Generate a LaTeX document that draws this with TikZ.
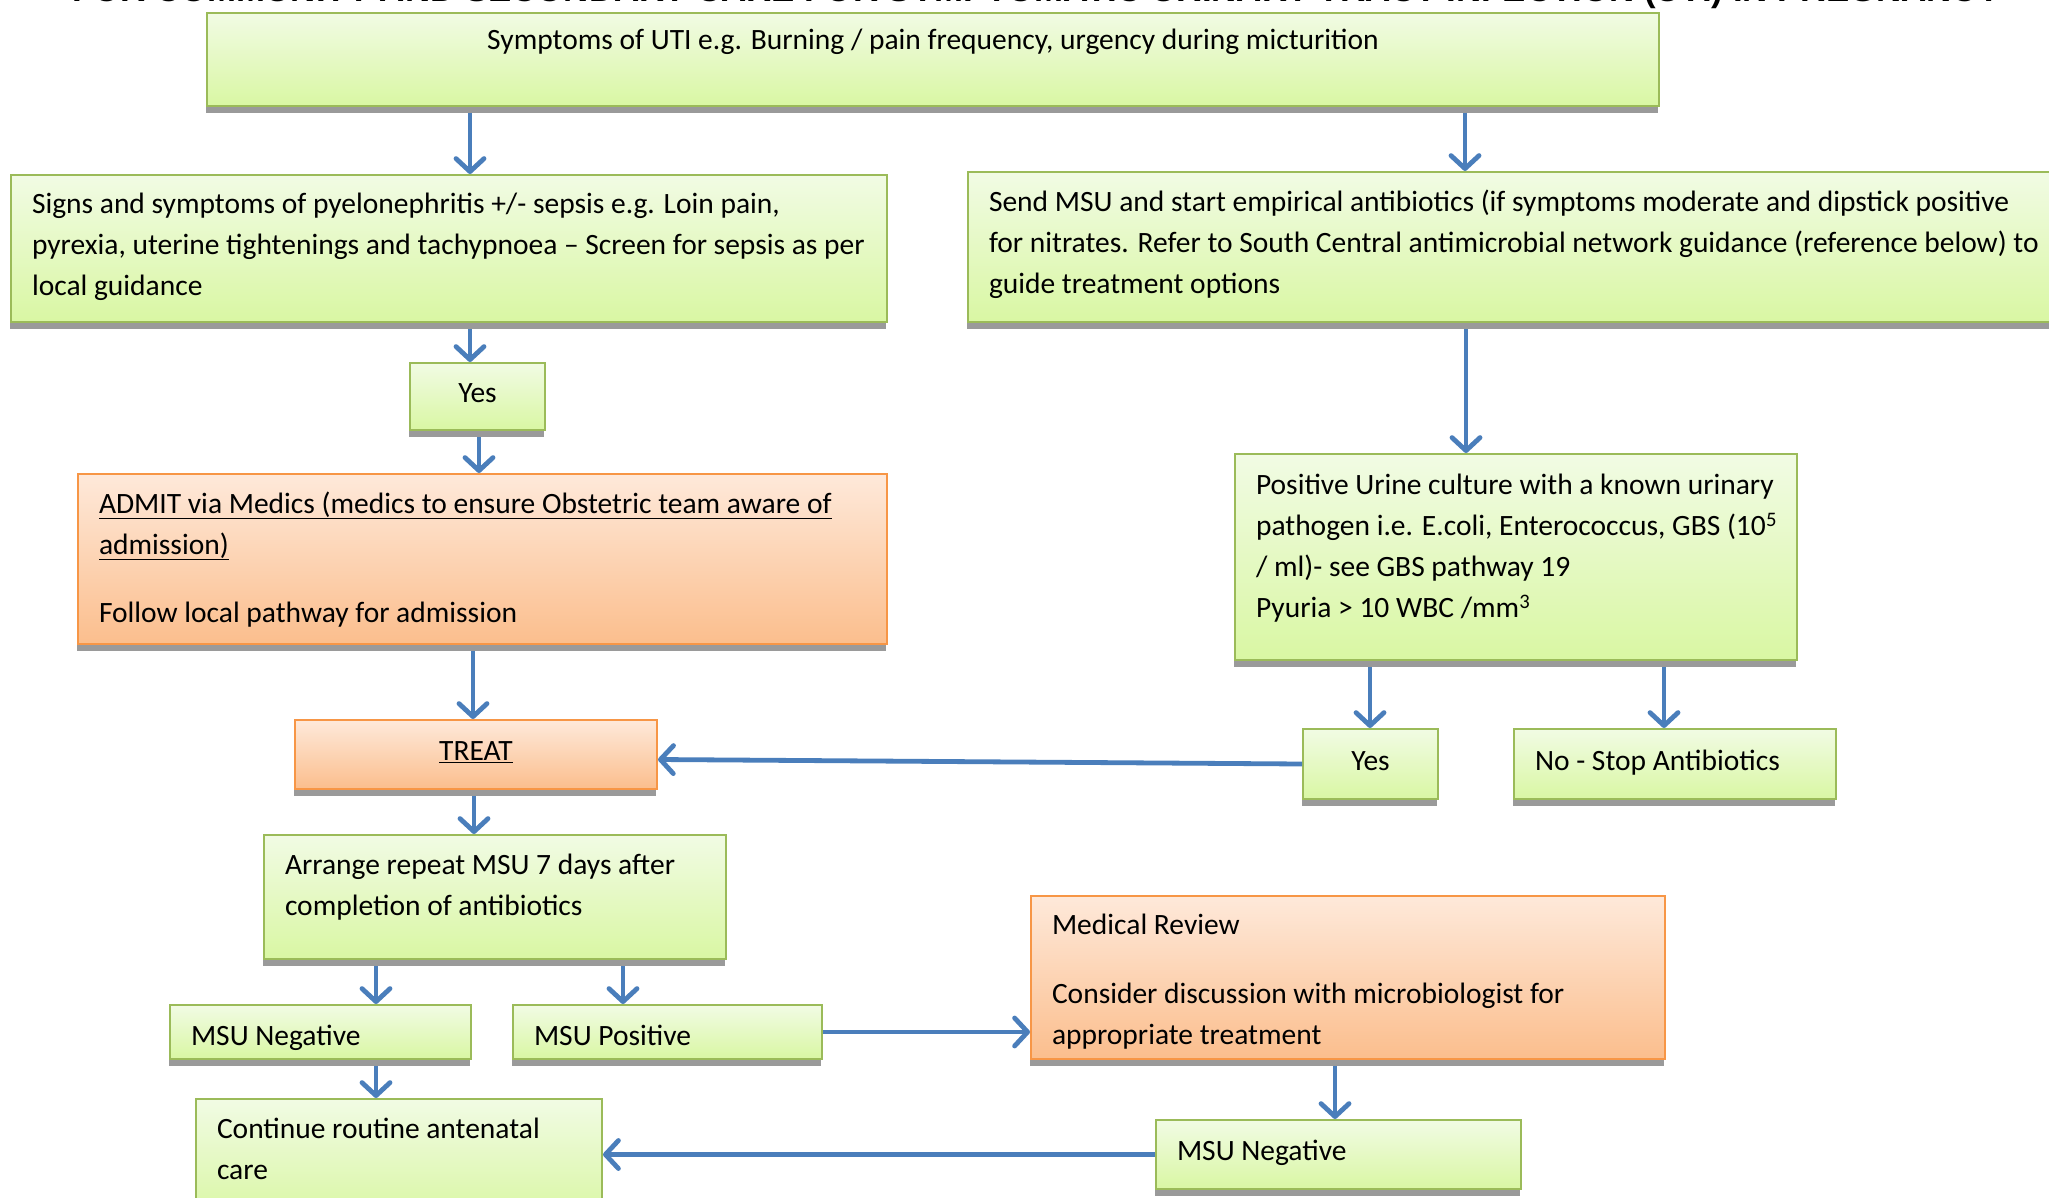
\documentclass[tikz,border=0pt]{standalone}
\usepackage{fontspec}
\usepackage{graphicx}
\setmainfont{Carlito}
\newfontfamily\titlefont{Liberation Sans}
\usetikzlibrary{arrows.meta,shadows}
\definecolor{gtop}{HTML}{F1FBE4}
\definecolor{gbot}{HTML}{D9F7A3}
\definecolor{gline}{HTML}{9BBB59}
\definecolor{otop}{HTML}{FEE9DA}
\definecolor{obot}{HTML}{FBBE8D}
\definecolor{oline}{HTML}{F79646}
\definecolor{arrowblue}{HTML}{4A7EBB}
\definecolor{shadowgray}{HTML}{9A9A9A}
% #1 inner width, #2 height, #3 vertical position (t/c), #4 content
\newcommand\tbx[4]{\parbox[c][#2pt][#3]{#1pt}{#4}}
\newcommand\toplines[2]{\vspace*{#1pt}\begin{tabular}{@{}l@{}}#2\end{tabular}}
\newcommand\upstrut{\rule[-16.3pt]{0pt}{45pt}}
\newcommand\dnstrut{\rule[-12.3pt]{0pt}{51pt}}
\begin{document}
\begin{tikzpicture}[x=1pt,y=-1pt,
  box/.style={draw=gline, line width=2pt, top color=gtop, bottom color=gbot,
    inner xsep=21pt, inner ysep=0pt, anchor=north west,
    drop shadow={shadow xshift=-1pt, shadow yshift=-7pt, fill=shadowgray, opacity=1},
    font=\fontsize{29.5}{41}\selectfont},
  obox/.style={box, draw=oline, top color=otop, bottom color=obot},
  arr/.style={draw=arrowblue, line width=4.8pt, -{Straight Barb[length=13pt,width=28pt,round]}},
  vup/.style={arr, shorten <=6pt}]
\useasboundingbox (0,0) rectangle (2049,1198);
\clip (0,0) rectangle (2049,1198);

% title, mostly cut off at the top edge
\node[anchor=base west, inner sep=0pt] (title) at (72,1.5)
  {\resizebox{1928pt}{!}{\titlefont\bfseries FOR COMMUNITY AND SECONDARY CARE FOR SYMPTOMATIC URINARY TRACT INFECTION (UTI) IN PREGNANCY}};

% boxes
\node[box] (b1) at (206,12) {\tbx{1410}{93}{t}{\vspace*{7.5pt}\centering\strut Symptoms of UTI e.g. Burning / pain frequency, urgency during micturition}};

\node[box] (b2) at (10,174) {\tbx{834}{147}{t}{\toplines{9.5}{Signs and symptoms of pyelonephritis +/- sepsis e.g. Loin pain,\\
pyrexia, uterine tightenings and tachypnoea -- Screen for sepsis as per\\
local guidance}}};

\node[box] (b3) at (967,171) {\tbx{1058}{150}{t}{\toplines{10.5}{Send MSU and start empirical antibiotics (if symptoms moderate and dipstick positive\\
for nitrates. Refer to South Central antimicrobial network guidance (reference below) to\\
guide treatment options}}};

\node[box] (yes1) at (409,362) {\tbx{93}{67}{c}{\centering\upstrut Yes}};

\node[obox] (admit) at (77,473) {\tbx{767}{170}{t}{\toplines{10.5}{\underline{ADMIT via Medics (medics to ensure Obstetric team aware of}\\
\underline{admission)}\\[27pt]
Follow local pathway for admission}}};

\node[box] (pos) at (1234,453) {\tbx{520}{206}{t}{\toplines{11.5}{Positive Urine culture with a known urinary\\
pathogen i.e. E.coli, Enterococcus, GBS (10\textsuperscript{5}\\
/ ml)- see GBS pathway 19\\
Pyuria > 10 WBC /mm\textsuperscript{3}}}};

\node[box] (yes2) at (1302,728) {\tbx{93}{70}{c}{\centering\upstrut Yes}};
\node[box] (no) at (1513,728) {\tbx{280}{70}{c}{\upstrut No - Stop Antibiotics}};

\node[obox] (treat) at (294,719) {\tbx{320}{69}{c}{\centering\upstrut\underline{TREAT}}};

\node[box] (arrange) at (263,834) {\tbx{420}{124}{t}{\toplines{10.5}{Arrange repeat MSU 7 days after\\
completion of antibiotics}}};

\node[box] (msunegL) at (169,1004) {\tbx{259}{54}{c}{\dnstrut MSU Negative}};
\node[box] (msupos) at (512,1004) {\tbx{267}{54}{c}{\dnstrut MSU Positive}};

\node[box] (cont) at (195,1098) {\tbx{364}{120}{t}{\toplines{10.5}{Continue routine antenatal\\
care}}};

\node[obox] (medical) at (1030,895) {\tbx{592}{163}{t}{\toplines{9.5}{Medical Review\\[28pt]
Consider discussion with microbiologist for\\
appropriate treatment}}};

\node[box] (msunegR) at (1155,1119) {\tbx{323}{69}{c}{\upstrut MSU Negative}};

% connectors
\draw[vup] (b1.south -| 470,0) -- (b2.north -| 470,0);
\draw[vup] (b1.south -| 1465,0) -- (b3.north -| 1465,0);
\draw[vup] (b2.south -| 470,0) -- (yes1.north -| 470,0);
\draw[vup] (yes1.south -| 479,0) -- (admit.north -| 479,0);
\draw[vup] (admit.south -| 473,0) -- (treat.north -| 473,0);
\draw[vup] (b3.south -| 1466,0) -- (pos.north -| 1466,0);
\draw[vup] (pos.south -| 1370,0) -- (yes2.north -| 1370,0);
\draw[vup] (pos.south -| 1664,0) -- (no.north -| 1664,0);
\draw[arr] (yes2.west) -- ([yshift=-5pt]treat.east);
\draw[vup] (treat.south -| 474,0) -- (arrange.north -| 474,0);
\draw[vup] (arrange.south -| 376,0) -- (msunegL.north -| 376,0);
\draw[vup] (arrange.south -| 623,0) -- (msupos.north -| 623,0);
\draw[arr] (msupos.east) -- (medical.west |- msupos.east);
\draw[vup] (msunegL.south -| 376,0) -- (cont.north -| 376,0);
\draw[vup] (medical.south -| 1335,0) -- (msunegR.north -| 1335,0);
\draw[arr] (msunegR.west) -- (cont.east |- msunegR.west);
\end{tikzpicture}
\end{document}
